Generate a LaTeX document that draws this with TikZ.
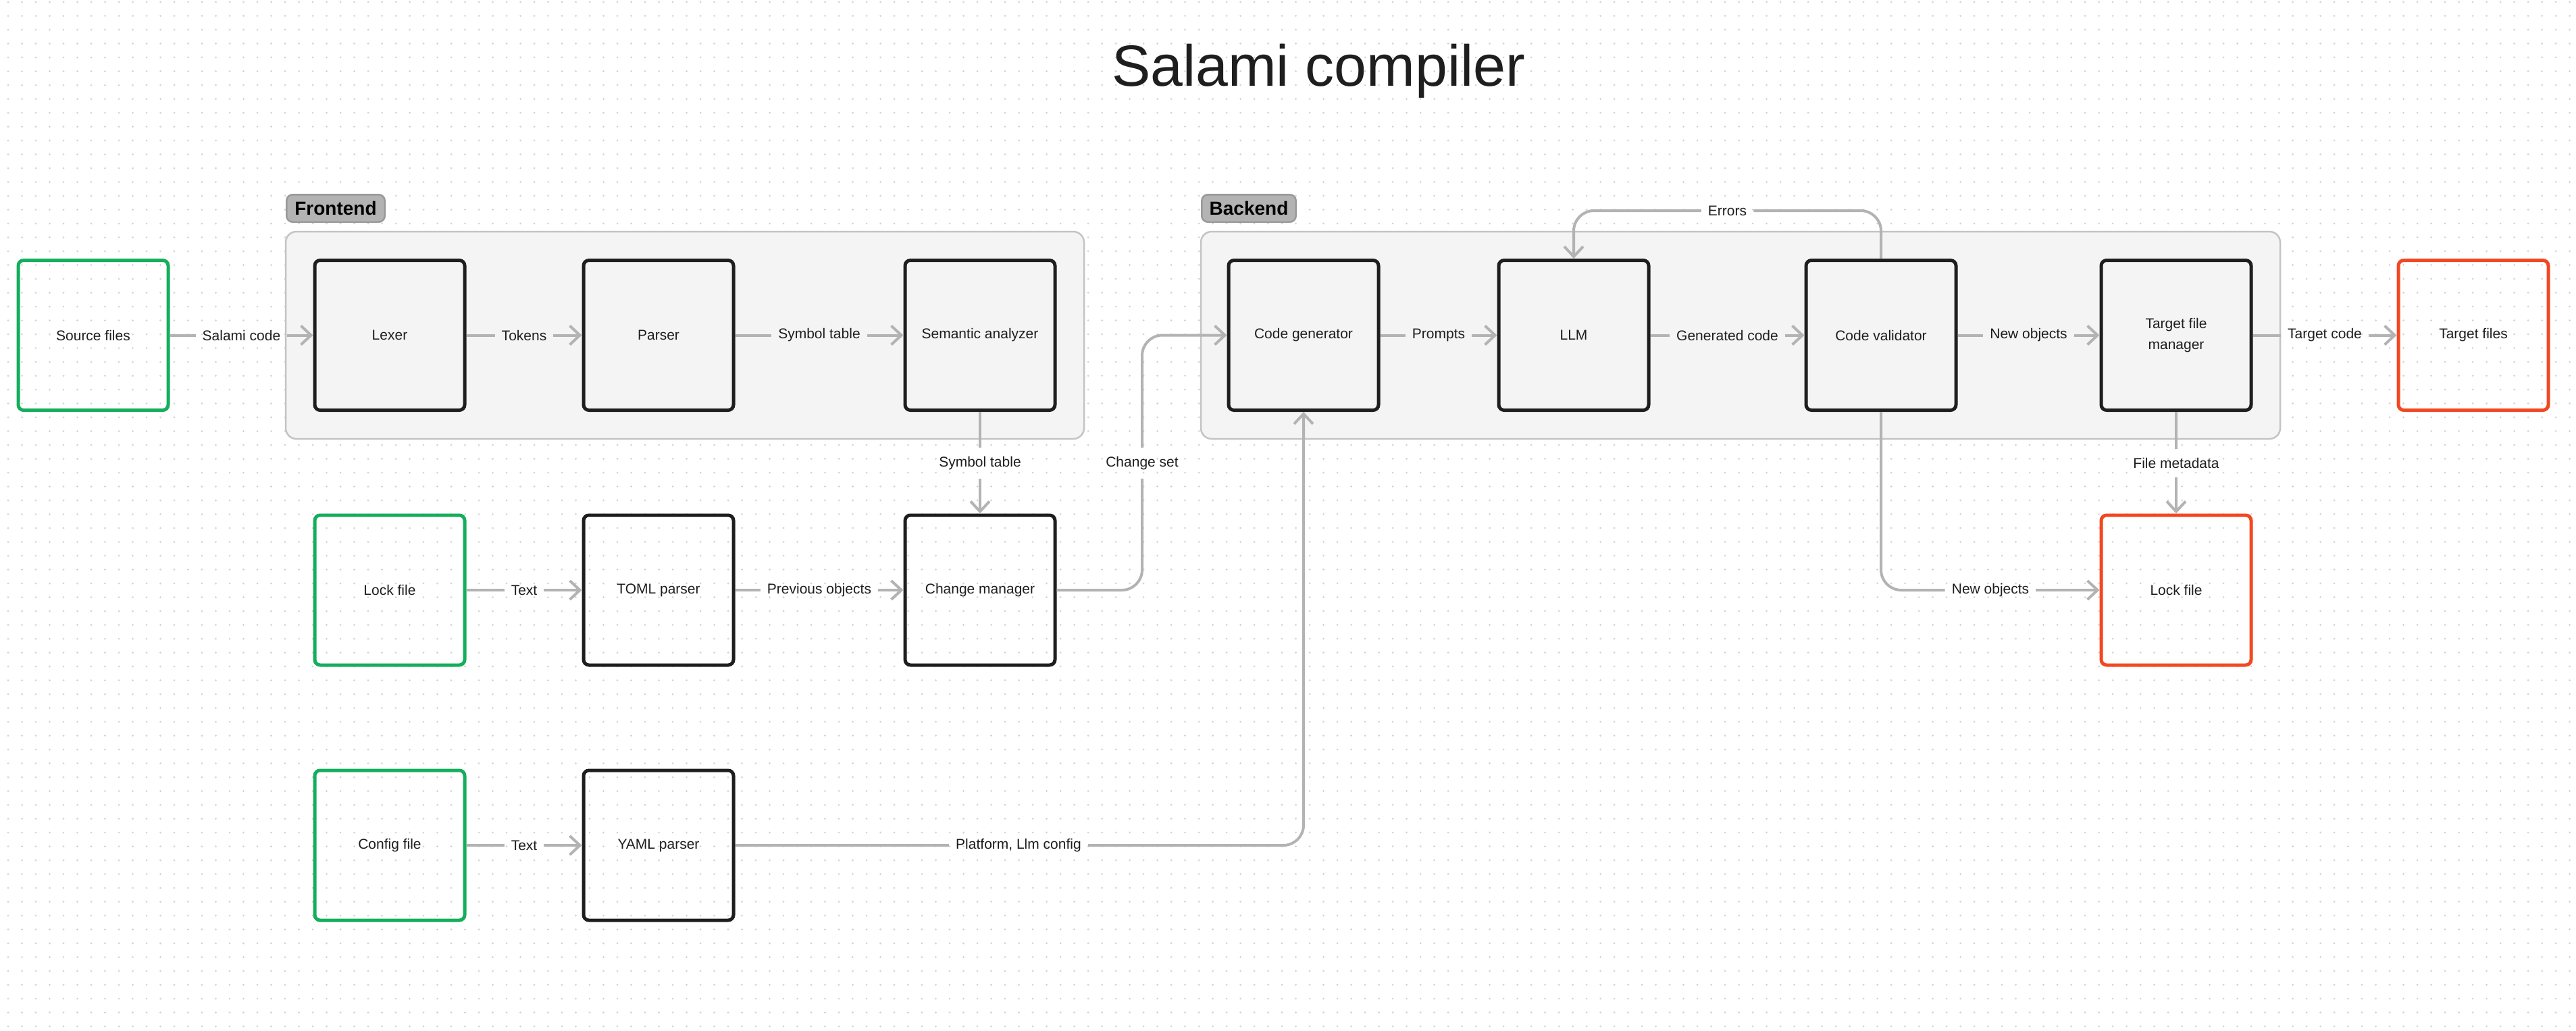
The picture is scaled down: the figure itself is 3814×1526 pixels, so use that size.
\documentclass[tikz,border=0pt]{standalone}
\usepackage{fontspec}
\setmainfont{Liberation Sans}
\usetikzlibrary{arrows.meta}
\definecolor{txt}{HTML}{1E1E1E}
\definecolor{boxblack}{HTML}{1E1E1E}
\definecolor{fgreen}{HTML}{14AE5C}
\definecolor{fred}{HTML}{F24822}
\definecolor{linegray}{HTML}{B3B3B3}
\definecolor{contfill}{HTML}{F4F4F4}
\definecolor{contborder}{HTML}{C4C4C4}
\definecolor{pillfill}{HTML}{B3B3B3}
\definecolor{pillborder}{HTML}{999999}
\definecolor{dotgray}{HTML}{D2D2D2}
\newcommand{\lblfont}{\fontsize{21}{31}\selectfont}
\newcommand{\pillfont}{\fontsize{28}{32}\selectfont\bfseries}
\tikzset{
  box/.style={draw=boxblack, line width=5pt, rounded corners=8pt, minimum width=222pt, minimum height=222pt, font=\lblfont, text=txt, align=center, inner sep=0pt},
  inbox/.style={box, fill=contfill},
  srcbox/.style={box, draw=fgreen},
  dstbox/.style={box, draw=fred},
  conn/.style={draw=linegray, line width=4pt},
  arr/.style={conn, -{Straight Barb[length=15pt,width=28pt]}},
  elbl/.style={font=\lblfont, text=txt, inner xsep=10pt, inner ysep=13pt},
  container/.style={draw=contborder, fill=contfill, line width=2.5pt, rounded corners=16pt, inner sep=0pt},
  pill/.style={draw=pillborder, fill=pillfill, line width=2.5pt, rounded corners=9pt, font=\pillfont, text=black, inner sep=0pt, minimum height=40.5pt}
}
\begin{document}
\begin{tikzpicture}[x=1pt, y=-1pt]
\useasboundingbox (0,0) rectangle (3814,1526);
\fill[white] (0,0) rectangle (3814,1526);
% dotted grid
\foreach \k in {0,...,74} {
  \draw[dotgray, line width=3pt, line cap=round, dash pattern=on 0pt off 20.5pt] (12,3+20.5*\k) -- (3814,3+20.5*\k);
}
% title
\node[font=\fontsize{86}{100}\selectfont, text=txt, anchor=base] (title) at (1952,127) {Salami compiler};
% containers
\node[container, minimum width=1182pt, minimum height=307pt] (fe) at (1014,496.5) {};
\node[container, minimum width=1598pt, minimum height=307pt] (be) at (2577,496.5) {};
\node[pill, minimum width=145.5pt] (fel) at (497,308.5) {Frontend};
\node[pill, minimum width=139.5pt] (bel) at (1849,308.5) {Backend};
% row 1
\node[srcbox] (src) at (138,496.5) {Source files};
\node[inbox] (lex) at (577,496.5) {Lexer};
\node[inbox] (par) at (975,496.5) {Parser};
\node[inbox] (sem) at (1451,496.5) {Semantic analyzer};
\node[inbox] (cg) at (1930,496.5) {Code generator};
\node[inbox] (llm) at (2330,496.5) {LLM};
\node[inbox] (cv) at (2785,496.5) {Code validator};
\node[inbox] (tfm) at (3222,496.5) {Target file\\manager};
\node[dstbox] (tf) at (3662,496.5) {Target files};
% row 2
\node[srcbox] (lock) at (577,874) {Lock file};
\node[box] (toml) at (975,874) {TOML parser};
\node[box] (cm) at (1451,874) {Change manager};
\node[dstbox] (lockout) at (3222,874) {Lock file};
% row 3
\node[srcbox] (cfg) at (577,1252) {Config file};
\node[box] (yaml) at (975,1252) {YAML parser};
% edge labels
\node[elbl] (e1) at (357.5,496.5) {Salami code};
\node[elbl] (e2) at (776,496.5) {Tokens};
\node[elbl] (e3) at (1213,496.5) {Symbol table};
\node[elbl] (e4) at (1451,686) {Symbol table};
\node[elbl] (e5) at (776,874) {Text};
\node[elbl] (e6) at (1213,874) {Previous objects};
\node[elbl] (e7) at (1691,686) {Change set};
\node[elbl] (e8) at (776,1252) {Text};
\node[elbl] (e9) at (1508,1252) {Platform, Llm config};
\node[elbl] (e10) at (2130,496.5) {Prompts};
\node[elbl] (e11) at (2557.5,496.5) {Generated code};
\node[elbl] (e12) at (2557.5,312) {Errors};
\node[elbl] (e13) at (3003.5,496.5) {New objects};
\node[elbl] (e14) at (3442,496.5) {Target code};
\node[elbl] (e15) at (3222,686) {File metadata};
\node[elbl] (e16) at (2947,874) {New objects};
% connectors
\draw[conn] (src.east) -- (e1.west);  \draw[arr] (e1.east) -- (lex.west);
\draw[conn] (lex.east) -- (e2.west);  \draw[arr] (e2.east) -- (par.west);
\draw[conn] (par.east) -- (e3.west);  \draw[arr] (e3.east) -- (sem.west);
\draw[conn] (sem.south) -- (e4.north); \draw[arr] (e4.south) -- (cm.north);
\draw[conn] (lock.east) -- (e5.west); \draw[arr] (e5.east) -- (toml.west);
\draw[conn] (toml.east) -- (e6.west); \draw[arr] (e6.east) -- (cm.west);
\draw[conn, rounded corners=30pt] (cm.east) -| (e7.south);
\draw[arr, rounded corners=30pt] (e7.north) |- (cg.west);
\draw[conn] (cfg.east) -- (e8.west); \draw[arr] (e8.east) -- (yaml.west);
\draw[conn] (yaml.east) -- (e9.west);
\draw[arr, rounded corners=30pt] (e9.east) -| (cg.south);
\draw[conn] (cg.east) -- (e10.west); \draw[arr] (e10.east) -- (llm.west);
\draw[conn] (llm.east) -- (e11.west); \draw[arr] (e11.east) -- (cv.west);
\draw[conn, rounded corners=30pt] (cv.north) |- (e12.east);
\draw[arr, rounded corners=30pt] (e12.west) -| (llm.north);
\draw[conn] (cv.east) -- (e13.west); \draw[arr] (e13.east) -- (tfm.west);
\draw[conn] (tfm.east) -- (e14.west); \draw[arr] (e14.east) -- (tf.west);
\draw[conn] (tfm.south) -- (e15.north); \draw[arr] (e15.south) -- (lockout.north);
\draw[conn, rounded corners=30pt] (cv.south) |- (e16.west);
\draw[arr] (e16.east) -- (lockout.west);
\end{tikzpicture}
\end{document}
